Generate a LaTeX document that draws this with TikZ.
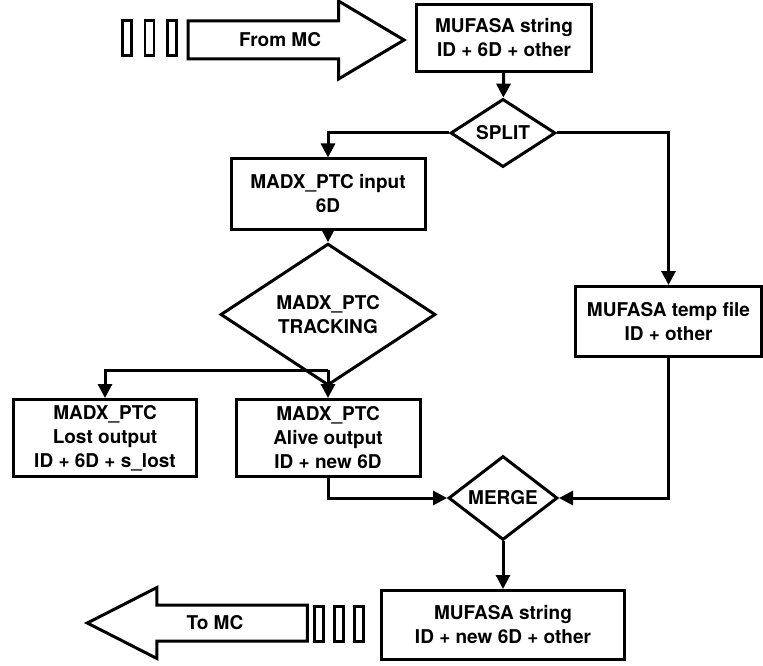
\documentclass[tikz,border=0pt]{standalone}
\usepackage{fontspec}
\setmainfont{TeX Gyre Heros}
\usepackage{tikz}
\usetikzlibrary{calc}
\usetikzlibrary{arrows,shapes,positioning}
\usetikzlibrary{shapes.geometric,shapes.arrows}
\usetikzlibrary{arrows.meta}

\begin{document}
\begin{tikzpicture}[x=1pt, y=-1pt, >={Triangle[length=14pt,width=14pt]}, line width=3pt]
	\useasboundingbox (0,0) rectangle (763,666);
	% ------------------------------------------------------------------
	% STYLE DEFINITIONS
	% ------------------------------------------------------------------
	\tikzset{
		lbl/.style     = {font=\fontsize{19}{24}\selectfont\bfseries, align=center},
		box/.style     = {lbl, draw, rectangle, inner sep=0pt},
		decide/.style  = {lbl, draw, diamond, inner sep=0pt},
		bigarrow/.style = {lbl, draw, single arrow, text height=13pt, text depth=0pt},
		packet/.style  = {draw, rectangle, line width=2.5pt, inner sep=0pt,
		                  minimum width=9pt, minimum height=35pt},
	}
	
	% ------------------------------------------------------------------
	% INPUT & OUTPUT ARROWS
	% ------------------------------------------------------------------
	\foreach \i/\x in {1/127,2/149.5,3/172}
		\node[packet] (in\i) at (\x,38) {};
	\node[bigarrow, inner ysep=11pt, single arrow head extend=20pt,
	      single arrow tip angle=61.5, minimum height=216pt, anchor=tip]
	      (frommc) at (407,40) {From MC};
	
	\foreach \i/\x in {1/319,2/339,3/359}
		\node[packet] (out\i) at (\x,624) {};
	\node[bigarrow, inner ysep=10pt, single arrow head extend=17.5pt,
	      single arrow tip angle=54, minimum height=220pt, shape border rotate=180, anchor=tip]
	      (tomc) at (84,623) {To MC};
	
	% ------------------------------------------------------------------
	% BOXES & DECISIONS
	% ------------------------------------------------------------------
	\node[box, minimum width=175pt, minimum height=67pt] (mstr) at (504,38)
		{MUFASA string\\ID + 6D + other};
	\node[decide, minimum width=105pt, minimum height=51pt] (split) at (503,133) {SPLIT};
	\node[box, minimum width=194pt, minimum height=70pt] (input) at (328,194)
		{MADX\_PTC input\\6D};
	\node[decide, minimum width=215pt, minimum height=102pt] (track) at (328,314.5)
		{MADX\_PTC\\TRACKING};
	\node[box, minimum width=186pt, minimum height=70pt] (temp) at (668.5,321.5)
		{MUFASA temp file\\ID + other};
	\node[box, minimum width=183pt, minimum height=77pt] (lost) at (105,438)
		{MADX\_PTC\\Lost output\\ID + 6D + s\_lost};
	\node[box, minimum width=184pt, minimum height=77pt] (alive) at (328,438)
		{MADX\_PTC\\Alive output\\ID + new 6D};
	\node[decide, minimum width=109pt, minimum height=75pt] (merge) at (503,498) {MERGE};
	\node[box, minimum width=243pt, minimum height=69pt] (mout) at (503,625)
		{MUFASA string\\ID + new 6D + other};
	
	% ------------------------------------------------------------------
	% CONNECTORS
	% ------------------------------------------------------------------
	\draw[->] (mstr) -- (split);
	\draw[->] (split.west) -| (input.north);
	\draw[->] (split.east) -| (temp.north);
	\draw[->] (input) -- (track);
	\coordinate (fork) at (328,370);
	\draw (track.south) -- (fork);
	\draw[->] (fork) -| (lost.north);
	\draw[->] (fork) -- (alive.north);
	\draw[->] (alive.south) |- (merge.west);
	\draw[->] (temp.south) |- (merge.east);
	\draw[->] (merge) -- (mout);
	
\end{tikzpicture}
\end{document}
